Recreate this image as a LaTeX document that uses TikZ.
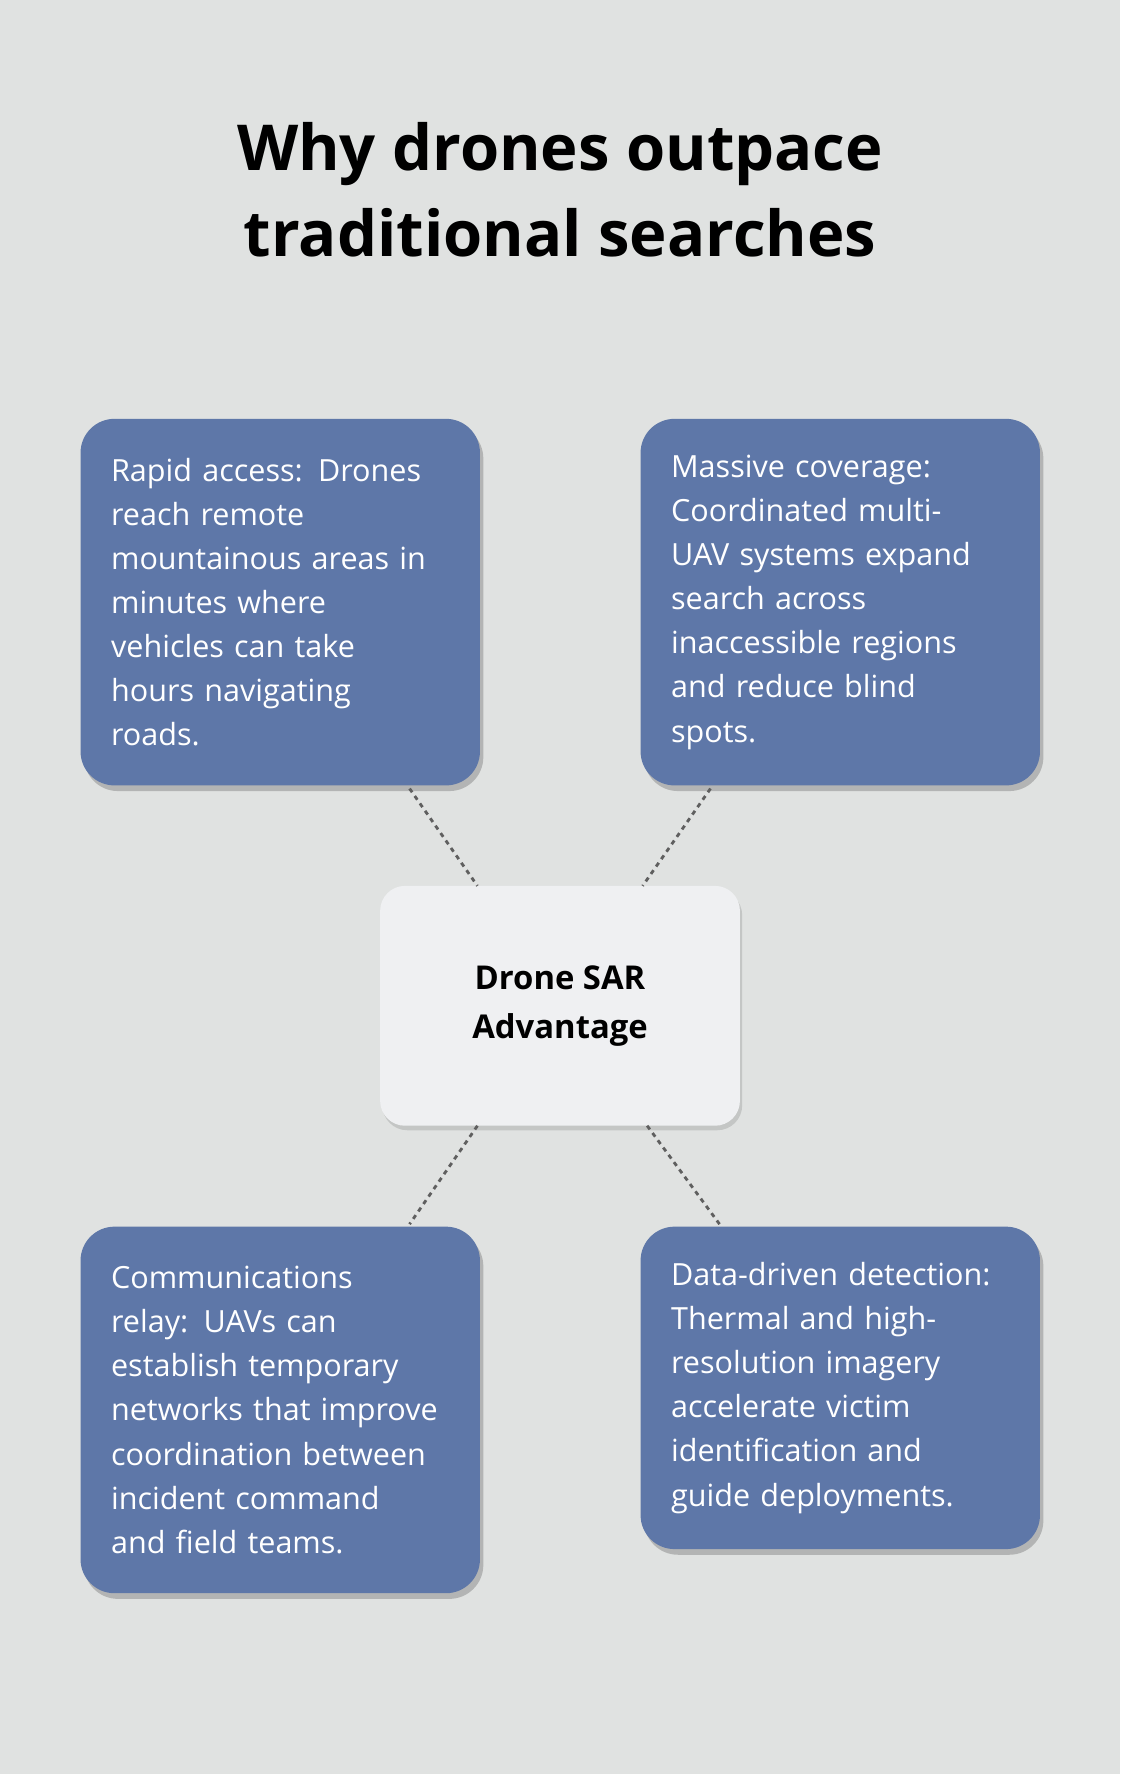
\documentclass[tikz,border=0pt]{standalone}
\usepackage{fontspec}
\setmainfont{Open Sans}
\usetikzlibrary{shadows}
\definecolor{bg}{HTML}{E0E2E1}
\definecolor{boxc}{HTML}{5E77A8}
\definecolor{cen}{HTML}{EFF0F2}
\definecolor{dots}{HTML}{5F5F5F}
\begin{document}
\begin{tikzpicture}[x=1pt,y=-1pt,
  card/.style={draw=none,fill=boxc,rounded corners=30pt,anchor=north west,
    text width=299pt,inner sep=27pt,minimum height=324pt,align=left,text=white,
    font=\fontsize{27}{39}\selectfont,
    drop shadow={shadow xshift=3pt,shadow yshift=-5pt,opacity=0.2,fill=black}},
  link/.style={draw=dots,line width=2.5pt,dash pattern=on 4pt off 4pt}]
\fill[bg] (0,0) rectangle (990,1568);
\useasboundingbox (0,0) rectangle (990,1568);
\node[font=\fontsize{56}{76}\selectfont\bfseries,align=center] (title) at (495,168)
  {Why drones outpace\\traditional searches};
\node[card] (a) at (71,370) {Rapid access: Drones\\reach remote\\mountainous areas in\\minutes where\\vehicles can take\\hours navigating\\roads.};
\node[card] (b) at (566,370) {Massive coverage:\\Coordinated multi-\\UAV systems expand\\search across\\inaccessible regions\\and reduce blind\\spots.};
\node[card] (c) at (71,1084) {Communications\\relay: UAVs can\\establish temporary\\networks that improve\\coordination between\\incident command\\and field teams.};
\node[card,minimum height=285pt] (d) at (566,1084) {Data-driven detection:\\Thermal and high-\\resolution imagery\\accelerate victim\\identification and\\guide deployments.};
\node[fill=cen,rounded corners=22pt,minimum width=318pt,minimum height=212pt,align=center,
  font=\fontsize{29}{43}\selectfont\bfseries,
  drop shadow={shadow xshift=2pt,shadow yshift=-4pt,opacity=0.12,fill=black}] (m) at (495,889)
  {Drone SAR\\Advantage};
\coordinate (a1) at (362,697); \coordinate (m1) at (422,783);
\coordinate (b1) at (628,697); \coordinate (m2) at (568,783);
\coordinate (m3) at (422,995); \coordinate (c1) at (362,1082);
\coordinate (m4) at (572,995); \coordinate (d1) at (636,1082);
\draw[link] (a1) -- (m1);
\draw[link] (b1) -- (m2);
\draw[link] (m3) -- (c1);
\draw[link] (m4) -- (d1);
\end{tikzpicture}
\end{document}
